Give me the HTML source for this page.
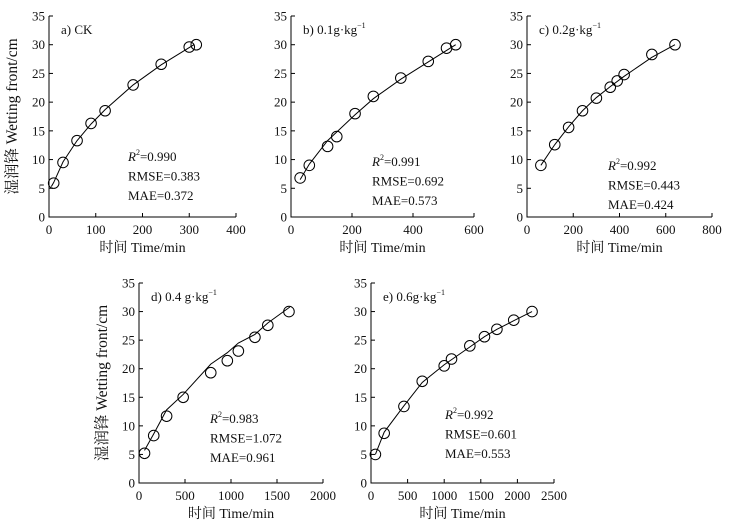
<!DOCTYPE html><html><head><meta charset="utf-8"><style>body{margin:0;background:#fff}svg{display:block}text{font-family:"Liberation Serif","Noto Serif CJK SC",serif;fill:#111}</style></head><body>
<svg id="s" width="732" height="528" xmlns="http://www.w3.org/2000/svg"></svg>
<script>
const s=document.getElementById('s');let h='';
const P=[
{x0:49,x1:236,y0:217,y1:16,xmax:400,xt:[0,100,200,300,400],t:'a) CK',sup:'',st:['0.990','0.383','0.372'],sx:128,sy:161,
pts:[[10,5.9],[30,9.5],[60,13.3],[90,16.3],[120,18.5],[180,23],[240,26.6],[300,29.6],[315,30]],
cur:[[5,5.3],[10,6],[30,9.6],[60,13.3],[90,16.2],[120,18.7],[180,23],[240,26.5],[300,29.5],[310,30]],yl:true},
{x0:291,x1:474,y0:217,y1:16,xmax:600,xt:[0,200,400,600],t:'b) 0.1g·kg',sup:'−1',st:['0.991','0.692','0.573'],sx:372,sy:166,
pts:[[30,6.8],[60,9],[120,12.3],[150,14],[210,18],[270,21],[360,24.2],[450,27.1],[510,29.4],[540,30]],
cur:[[30,6.5],[60,9.2],[120,13.3],[210,17.8],[270,20.6],[360,24],[450,27],[510,29],[540,30]]},
{x0:527,x1:712,y0:217,y1:16,xmax:800,xt:[0,200,400,600,800],t:'c) 0.2g·kg',sup:'−1',st:['0.992','0.443','0.424'],sx:608,sy:170,
pts:[[60,9],[120,12.6],[180,15.6],[240,18.5],[300,20.7],[360,22.6],[390,23.7],[420,24.8],[540,28.3],[640,30]],
cur:[[60,9],[120,12.6],[180,15.7],[240,18.5],[300,20.8],[360,22.7],[420,24.5],[540,27.8],[640,30]]},
{x0:139,x1:323,y0:483,y1:283,xmax:2000,xt:[0,500,1000,1500,2000],t:'d) 0.4 g·kg',sup:'−1',st:['0.983','1.072','0.961'],sx:210,sy:423,
pts:[[60,5.2],[160,8.3],[300,11.7],[480,15],[780,19.3],[960,21.4],[1080,23.1],[1260,25.5],[1400,27.6],[1630,30]],
cur:[[60,5.7],[160,8.6],[300,12.8],[480,15.5],[780,20.8],[960,22.8],[1080,24.5],[1260,26],[1400,28],[1640,30.8]],yl:true},
{x0:371,x1:554,y0:483,y1:283,xmax:2500,xt:[0,500,1000,1500,2000,2500],t:'e) 0.6g·kg',sup:'−1',st:['0.992','0.601','0.553'],sx:445,sy:419,
pts:[[60,5],[180,8.7],[450,13.4],[700,17.8],[1000,20.5],[1100,21.7],[1350,24],[1550,25.6],[1720,26.9],[1950,28.5],[2200,30]],
cur:[[60,5],[180,8.9],[450,13.5],[700,17.6],[1000,20.7],[1350,23.8],[1550,25.6],[1720,26.9],[1950,28.4],[2200,30]]}];
for(const p of P){
 const X=v=>p.x0+(p.x1-p.x0)*v/p.xmax, Y=v=>p.y0+(p.y1-p.y0)*v/35;
 h+=`<path d="M${p.x0} ${p.y1}V${p.y0}H${p.x1}" fill="none" stroke="#000" stroke-width="1"/>`;
 for(let v=0;v<=35;v+=5){const y=Y(v);h+=`<line x1="${p.x0}" x2="${p.x0+4}" y1="${y}" y2="${y}" stroke="#000"/><text x="${p.x0-4}" y="${y+4.5}" font-size="13" text-anchor="end">${v}</text>`;}
 for(const v of p.xt){const x=X(v);h+=`<line x1="${x}" x2="${x}" y1="${p.y0}" y2="${p.y0-4}" stroke="#000"/><text x="${x}" y="${p.y0+17}" font-size="13" text-anchor="middle">${v}</text>`;}
 h+=`<polyline points="${p.cur.map(c=>X(c[0])+','+Y(c[1])).join(' ')}" fill="none" stroke="#000" stroke-width="1"/>`;
 for(const c of p.pts)h+=`<circle cx="${X(c[0])}" cy="${Y(c[1])}" r="5.3" fill="none" stroke="#000" stroke-width="1"/>`;
 h+=`<text x="${p.x0+12}" y="${p.y1+18}" font-size="13">${p.t}<tspan font-size="8" dy="-6">${p.sup}</tspan></text>`;
 h+=`<text x="${p.sx}" y="${p.sy}" font-size="13"><tspan font-style="italic">R</tspan><tspan font-size="8" dy="-6">2</tspan><tspan dy="6">=${p.st[0]}</tspan></text>`;
 h+=`<text x="${p.sx}" y="${p.sy+19.5}" font-size="13">RMSE=${p.st[1]}</text><text x="${p.sx}" y="${p.sy+39}" font-size="13">MAE=${p.st[2]}</text>`;
 h+=`<text x="${(p.x0+p.x1)/2}" y="${p.y0+35}" font-size="14" text-anchor="middle">时间 Time/min</text>`;
 if(p.yl){const cx=p.x0-32,cy=(p.y0+p.y1)/2;h+=`<text transform="translate(${cx},${cy}) rotate(-90)" font-size="15.5" text-anchor="middle">湿润锋 Wetting front/cm</text>`;}
}
s.innerHTML=h;
</script></body></html>
